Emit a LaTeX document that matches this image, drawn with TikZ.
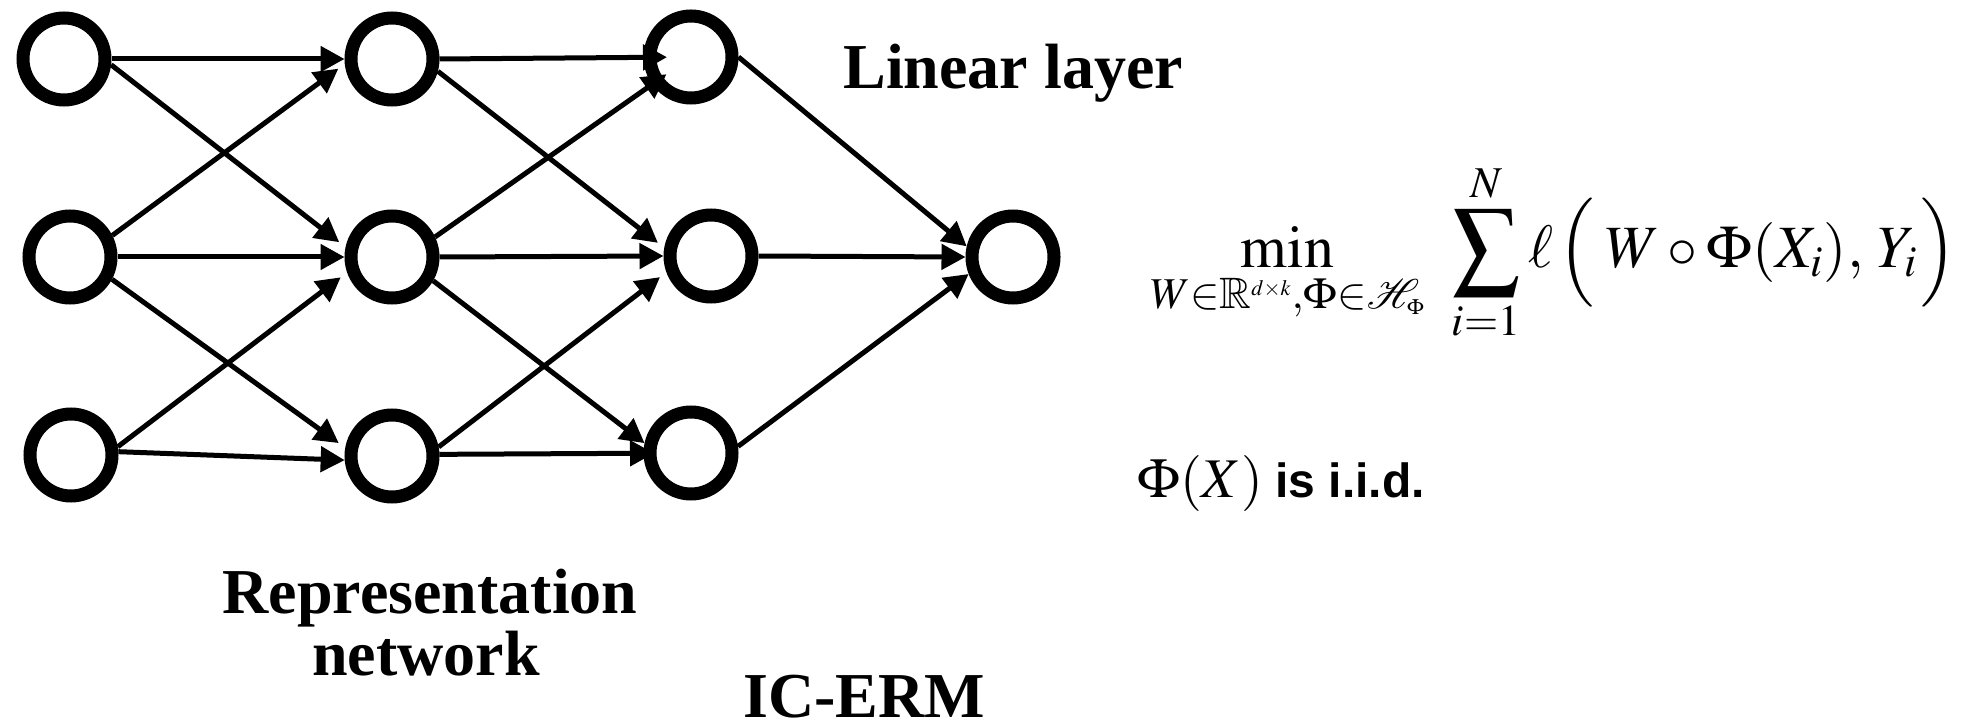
\documentclass[tikz,border=0pt]{standalone}
\usepackage{graphicx}
\usepackage{mathptmx}
\usepackage{amssymb}
\usepackage{mathrsfs}
\usepackage[no-math]{fontspec}
\newfontfamily\timesfont{Liberation Serif}
\newfontfamily\arialfont{Liberation Sans}
\usetikzlibrary{arrows.meta}
\DeclareMathSizes{30}{30}{22}{11}

% summation sign and loss parentheses of the objective, at fixed sizes
\newcommand\ermsum{\mathop{\vcenter{\hbox{\resizebox*{34pt}{43.5pt}{$\displaystyle\sum$}}}}\limits}
\newcommand\ermopen{\mathopen{\vcenter{\hbox{\resizebox*{!}{55pt}{$\left(\vrule height 20pt depth 20pt width 0pt\right.$}}}}}
\newcommand\ermclose{\mathclose{\vcenter{\hbox{\resizebox*{!}{55pt}{$\left.\vrule height 20pt depth 20pt width 0pt\right)$}}}}}

\begin{document}
\begin{tikzpicture}[x=0.5pt,y=-0.5pt,
  neuron/.style={circle,draw=black,fill=white,line width=6.5pt,minimum size=41pt,inner sep=0pt},
  conn/.style={draw=black,line width=2.5pt,-{Triangle[length=12pt,width=12.5pt]}},
  title/.style={font=\timesfont\bfseries\fontsize{32}{38}\selectfont,inner sep=0pt},
  mathtext/.style={inner sep=0pt,font=\fontsize{30}{36}\selectfont},
]
\useasboundingbox (0,0) rectangle (1962,721);

% input layer
\node[neuron] (a1) at (64,59) {};
\node[neuron] (a2) at (70,257) {};
\node[neuron] (a3) at (71,455) {};
% hidden layer
\node[neuron] (b1) at (392,59) {};
\node[neuron] (b2) at (392,257) {};
\node[neuron] (b3) at (392,456) {};
% representation layer
\node[neuron] (c1) at (691,57) {};
\node[neuron] (c2) at (711,256) {};
\node[neuron] (c3) at (691,453) {};
% output
\node[neuron] (o) at (1013,257) {};

% input -> hidden
\draw[conn] (a1.0) -- (b1.180);
\draw[conn,shorten >=4pt] (a1.353) -- (b2.168);
\draw[conn,shorten >=4pt] (a2.27) -- (b1.186);
\draw[conn] (a2.0) -- (b2.180);
\draw[conn,shorten >=4pt] (a2.332) -- (b3.170);
\draw[conn,shorten >=4pt] (a3.10) -- (b2.199);
\draw[conn] (a3.4) -- (b3.185);

% hidden -> representation
\draw[conn,shorten >=12pt] (b1.0) -- (c1.center);
\draw[conn,shorten >=4pt] (b1.345) -- (c2.170);
\draw[conn,shorten >=15pt] (b2.25) -- (c1.center);
\draw[conn] (b2.0) -- (c2.180);
\draw[conn] (b2.330) -- (c3.168);
\draw[conn,shorten >=4pt] (b3.11) -- (c2.200);
\draw[conn,shorten >=18.5pt] (b3.2) -- (c3.center);

% representation -> output
\draw[conn] (c1.0) -- (o.167);
\draw[conn] (c2.0) -- (o.180);
\draw[conn] (c3.8) -- (o.201);

% labels
\node[title,anchor=base west] (lin) at (843,89) {Linear layer};
\node[title,anchor=base] (rep1) at (430,613) {Representation};
\node[title,anchor=base] (rep2) at (426,675) {network};
\node[title,anchor=base west] (icerm) at (743,717) {IC-ERM};

% objective: minimisation, sum, loss
\node[mathtext,anchor=base west] (ermmin) at (1150,268)
  {$\displaystyle\min_{W\in\mathbb{R}^{d\times k},\Phi\in\mathscr{H}_{\Phi}}$};
\node[mathtext,anchor=base] (ermsum) at (1486,268) {$\displaystyle\ermsum_{i=1}^{N}$};
\node[mathtext,anchor=base west] (ermloss) at (1528,268)
  {$\ell\mkern1.5mu\ermopen\mkern2.5mu W\circ\Phi(X_i),\,Y_i\ermclose$};

% assumption
\node[mathtext,anchor=base west,font=\fontsize{28}{34}\selectfont] (phix) at (1137,497) {$\Phi(X)$};
\node[mathtext,anchor=base west,font=\arialfont\bfseries\fontsize{24}{29}\selectfont] (iid) at (1275,497) {is i.i.d.};
\end{tikzpicture}
\end{document}
